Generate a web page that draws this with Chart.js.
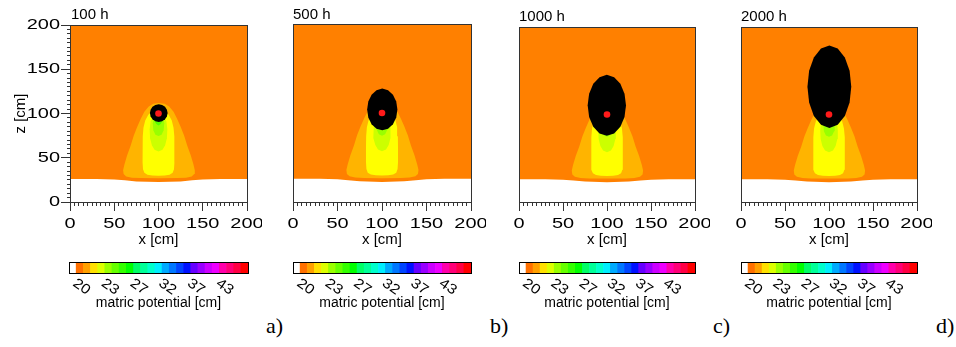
<!DOCTYPE html>
<html><head><meta charset="utf-8">
<script src="https://cdn.jsdelivr.net/npm/chart.js@4.4.1/dist/chart.umd.min.js"></script>
<style>
html,body{margin:0;padding:0;background:#fff;}
#fig{position:relative;width:956px;height:347px;overflow:hidden;background:#fff;}
canvas{position:absolute;}
.ttl{position:absolute;font:15px 'Liberation Sans',Arial,sans-serif;line-height:15px;color:#000;white-space:nowrap;}
.lab{position:absolute;font:22px 'Liberation Serif','DejaVu Serif',serif;line-height:22px;color:#000;white-space:nowrap;}
</style></head><body><div id="fig"></div>
<script>
// ---------- data (x [cm], z [cm]) ----------
const PANEL_TITLES = ['100 h', '500 h', '1000 h', '2000 h'];
const PANEL_LETTERS = ['a)', 'b)', 'c)', 'd)'];
const AXIS_TICKS = [0, 50, 100, 150, 200];
const AXIS_TICK_LABELS = ['0', '50', '100', '150', '200'];
const CB_LABELS = ['20', '23', '27', '32', '37', '43'];
const CB_LABEL_CELLS = [1, 5, 9, 13, 17, 21];
const CB_COLORS = ['#ffffff','#ff7000','#ffa000','#ffe000','#ddff00',
  '#99ff00','#66ff00','#33ff00','#00ff00',
  '#00ff66','#00ff99','#00ffcc','#00eeff',
  '#00aaff','#0077ff','#0044ff','#0011ff',
  '#6600ff','#9900ff','#cc00ff','#ee00ff',
  '#ff00aa','#ff0077','#ff0044','#ff0000'];
const CB_CELL_VALUES = [1,1,1,1,1,1,1,1,1,1,1,1,1,1,1,1,1,1,1,1,1,1,1,1,1];

const WET_FRONT = [[0,26],[30,26],[50,25.5],[62,24.5],[75,23.3],[100,22.5],[125,23.3],[138,24.5],[150,25.5],[170,26],[200,26]];
const PLUME_OUTER = [[100,112],[94,111],[89,108],[84,102],[80,94],[76,85],[72,75],[68.5,63.5],[64.5,52.5],[61.5,42.5],[60,36],[60.6,31.5],[63.5,28.8],[70,27.5],[80,27],[100,26.8],
  [121,27],[131,27.5],[137.5,28.8],[140.4,31.5],[141,36],[139.5,42.5],[136.5,52.5],[132.5,63.5],[129,75],[125,85],[121,94],[117,102],[112,108],[107,111],[100,112]];
const PLUME_YELLOW = [[100,104],[93,102.5],[88.5,98.5],[85,92],[83,84],[82.2,74],[82,60],[82,45],[82.5,37],[84,33],[87.5,30.8],[93,30],[100,29.8],
  [107,30],[112.5,30.8],[116,33],[117.5,37],[118,45],[118,60],[117.8,74],[117,84],[115,92],[111.5,98.5],[107,102.5],[100,104]];
const PLUME_LIME = [[100,99],[94,97],[91,91],[90,82],[90.5,72],[92.5,64],[95.5,59],[100,57],[104.5,59],[107.5,64],[109.5,72],[110,82],[109,91],[106,97],[100,99]];
const PLUME_GREEN = [[100,98],[95,95.5],[93.5,89],[94.2,81],[96.5,76],[100,74.5],[103.5,76],[105.8,81],[106.5,89],[105,95.5],[100,98]];
const PLUME_BRIGHT = [[100,99],[94.5,97.5],[95,92.5],[97.5,88],[100,86.5],[102.5,88],[105,92.5],[105.5,97.5],[100,99]];
const SAT_100H = [[110.3,100.5],[109.5,104.3],[107.4,107.6],[104.1,109.7],[100.3,110.5],[96.5,109.7],[93.2,107.6],[91.1,104.3],[90.3,100.5],[91.1,96.7],[93.2,93.4],[96.5,91.3],[100.3,90.5],[104.1,91.3],[107.4,93.4],[109.5,96.7],[110.3,100.5]];
const SAT_500H = [[117.3,104],[116,113],[112.3,120.6],[106.8,125.7],[100.3,127.5],[93.8,125.7],[88.3,120.6],[84.6,113],[83.3,104],[84.6,95],[88.3,87.4],[93.8,82.3],[100.3,80.5],[106.8,82.3],[112.3,87.4],[116,95],[117.3,104]];
const SAT_1000H = [[121.6,110.5],[119.9,123.8],[115.2,135.1],[108.1,142.7],[99.8,145.3],[91.5,142.7],[84.4,135.1],[79.7,123.8],[78,110.5],[79.7,97.2],[84.4,85.9],[91.5,78.3],[99.8,75.7],[108.1,78.3],[115.2,85.9],[119.9,97.2],[121.6,110.5]];
const SAT_2000H = [[125.3,131.8],[123.4,149.9],[118,165.2],[109.9,175.4],[100.4,179],[90.9,175.4],[82.8,165.2],[77.4,149.9],[75.5,131.8],[77.4,113.7],[82.8,98.4],[90.9,88.2],[100.4,84.6],[109.9,88.2],[118,98.4],[123.4,113.7],[125.3,131.8]];
const SATURATED = [SAT_100H, SAT_500H, SAT_1000H, SAT_2000H];
const SOURCE = [[100,100]];

// ---------- styles / layout ----------
const C_BG = '#ff8000', C_OUTER = '#ffb400', C_YELLOW = '#ffff00', C_LIME = '#ccff00',
      C_GREEN = '#99ff00', C_BRIGHT = '#55ff00', C_SAT = '#000000', C_SRC = '#ff1a1a';
const AXIS_COLOR = '#333';
const MINOR_STEP = 5;
const TICK_FONT = "15px 'Liberation Sans', Arial, sans-serif";
const TICK_STRETCH = 1.33;
const PANEL_BOX = [
  {left:0,   width:262, padL:0,  top:25, showY:true},
  {left:280, width:206, padL:13, top:24, showY:false},
  {left:505, width:205, padL:14, top:27, showY:false},
  {left:727, width:205, padL:14, top:27, showY:false}];
const CB_BOX = [
  {left:59,  width:200, padL:10, padR:11},
  {left:283, width:198, padL:10, padR:10},
  {left:509, width:196, padL:10, padR:10},
  {left:731, width:196, padL:10, padR:10}];
const TITLE_POS = [[71,5.5],[293,5.5],[519,8],[741,8]];
const LETTER_POS = [[266,315],[490,315],[713,315],[936,315]];

Chart.defaults.font.family = "'Liberation Sans', Arial, sans-serif";
Chart.defaults.color = '#000';

const fig = document.getElementById('fig');
const toXY = arr => arr.map(p => ({x: p[0], y: p[1]}));
const al = v => Math.round(v - 0.5) + 0.5;

function stretchedText(ctx, text, x, y, align) {
  ctx.save();
  ctx.translate(x, y);
  ctx.scale(TICK_STRETCH, 1);
  ctx.textAlign = align;
  ctx.fillText(text, 0, 0);
  ctx.restore();
}

const framePlugin = {
  id: 'frameMinor',
  afterDraw(chart, args, opts) {
    const {ctx, chartArea: a, scales} = chart;
    ctx.save();
    ctx.strokeStyle = AXIS_COLOR; ctx.lineWidth = 1;
    const L = al(a.left), R = al(a.right), T = al(a.top), B = al(a.bottom);
    ctx.strokeRect(L, T, R - L, B - T);
    ctx.beginPath();
    const xs = scales.x;
    for (let v = xs.min + MINOR_STEP; v < xs.max; v += MINOR_STEP) {
      if (v % 50 === 0) continue;
      const p = al(xs.getPixelForValue(v));
      ctx.moveTo(p, B); ctx.lineTo(p, B + 3.5);
    }
    if (opts.showY) {
      const ys = scales.y;
      for (let v = ys.min + MINOR_STEP; v < ys.max; v += MINOR_STEP) {
        if (v % 50 === 0) continue;
        const p = al(ys.getPixelForValue(v));
        ctx.moveTo(L, p); ctx.lineTo(L - 3.5, p);
      }
    }
    ctx.stroke();
    // tick labels (horizontally wide digits, as in the original)
    ctx.fillStyle = '#000';
    ctx.font = TICK_FONT;
    ctx.textBaseline = 'middle';
    AXIS_TICKS.forEach((v, k) => {
      stretchedText(ctx, AXIS_TICK_LABELS[k], xs.getPixelForValue(v), a.bottom + 21.5, 'center');
    });
    if (opts.showY) {
      const ys = scales.y;
      AXIS_TICKS.forEach((v, k) => {
        stretchedText(ctx, AXIS_TICK_LABELS[k], a.left - 10, ys.getPixelForValue(v), 'right');
      });
    }
    ctx.restore();
  }
};

function shapeSet(arr, color) {
  return {data: toXY(arr), fill: 'shape', backgroundColor: color, borderColor: 'rgba(0,0,0,0)',
          borderWidth: 0, pointRadius: 0, tension: 0};
}

function makePanel(i) {
  const box = PANEL_BOX[i];
  const cv = document.createElement('canvas');
  cv.width = box.width; cv.height = 250;
  cv.style.left = box.left + 'px'; cv.style.top = '0px';
  cv.style.width = box.width + 'px'; cv.style.height = '250px';
  fig.appendChild(cv);
  const ds = [
    {data: toXY(SOURCE), showLine: false, pointRadius: 3.3, pointBackgroundColor: C_SRC, pointBorderWidth: 0, fill: false},
    shapeSet(SATURATED[i], C_SAT),
    shapeSet(PLUME_BRIGHT, C_BRIGHT),
    shapeSet(PLUME_GREEN, C_GREEN),
    shapeSet(PLUME_LIME, C_LIME),
    shapeSet(PLUME_YELLOW, C_YELLOW),
    shapeSet(PLUME_OUTER, C_OUTER),
    {data: toXY(WET_FRONT), fill: 'end', backgroundColor: C_BG, borderColor: 'rgba(0,0,0,0)', borderWidth: 0, pointRadius: 0, tension: 0}
  ];
  const axisBase = {
    type: 'linear', min: 0, max: 200,
    afterBuildTicks: s => { s.ticks = AXIS_TICKS.map(v => ({value: v})); },
    grid: {drawOnChartArea: false, tickLength: 9, color: AXIS_COLOR, tickColor: AXIS_COLOR},
    border: {display: true, color: AXIS_COLOR}
  };
  new Chart(cv, {
    type: 'line',
    data: {datasets: ds},
    options: {
      responsive: false, animation: false, events: [], devicePixelRatio: 1,
      layout: {padding: {top: box.top, left: box.padL, right: 15, bottom: 0}},
      plugins: {legend: {display: false}, tooltip: {enabled: false}, title: {display: false},
                frameMinor: {showY: box.showY}},
      scales: {
        x: Object.assign({}, axisBase, {
          afterFit: s => { s.height = 48; },
          ticks: {display: false},
          title: {display: true, text: 'x [cm]', font: {size: 15}, color: '#000', padding: {top: 0, bottom: 1}}
        }),
        y: Object.assign({}, axisBase, {
          display: box.showY,
          afterFit: s => { s.width = box.showY ? 70 : 0; },
          ticks: {display: false},
          title: {display: true, text: 'z [cm]', font: {size: 15}, color: '#000', padding: {top: 12, bottom: 0}}
        })
      }
    },
    plugins: [framePlugin]
  });
}

const cbPlugin = {
  id: 'cbLabels',
  afterDraw(chart) {
    const {ctx, chartArea: a, scales: {x}} = chart;
    ctx.save();
    ctx.strokeStyle = '#000'; ctx.lineWidth = 1;
    const L = al(a.left), R = al(a.right), T = al(a.top), B = al(a.bottom);
    ctx.strokeRect(L, T, R - L, B - T);
    ctx.fillStyle = '#000';
    ctx.font = "14px 'Liberation Sans', Arial, sans-serif";
    ctx.textAlign = 'left'; ctx.textBaseline = 'top';
    CB_LABELS.forEach((t, k) => {
      const px = x.getPixelForValue(CB_LABEL_CELLS[k] - 0.5);
      ctx.save();
      ctx.translate(px + 2, a.bottom + 3);
      ctx.rotate(35 * Math.PI / 180);
      ctx.scale(1.15, 1);
      ctx.fillText(t, 0, 0);
      ctx.restore();
    });
    ctx.restore();
  }
};

function makeColorbar(i) {
  const box = CB_BOX[i];
  const cv = document.createElement('canvas');
  cv.width = box.width; cv.height = 58;
  cv.style.left = box.left + 'px'; cv.style.top = '258px';
  cv.style.width = box.width + 'px'; cv.style.height = '58px';
  fig.appendChild(cv);
  new Chart(cv, {
    type: 'bar',
    data: {labels: CB_COLORS.map((c, k) => String(k)),
           datasets: [{data: CB_CELL_VALUES, backgroundColor: CB_COLORS, borderWidth: 0,
                       barPercentage: 1, categoryPercentage: 1}]},
    options: {
      responsive: false, animation: false, events: [], devicePixelRatio: 1,
      layout: {padding: {top: 4, left: box.padL, right: box.padR, bottom: 0}},
      plugins: {legend: {display: false}, tooltip: {enabled: false}},
      scales: {
        x: {type: 'category', offset: true, z: 1,
            afterFit: s => { s.height = 43; },
            ticks: {display: false},
            grid: {offset: true, drawTicks: false, drawOnChartArea: true, lineWidth: 1,
                   color: c => CB_LABEL_CELLS.includes(c.index) ? '#000' : 'rgba(0,0,0,0)'},
            border: {display: true, color: '#000'},
            title: {display: true, text: 'matric potential [cm]', font: {size: 14}, color: '#000', padding: {top: 0, bottom: 4.6}}},
        y: {display: false, min: 0, max: 1}
      }
    },
    plugins: [cbPlugin]
  });
}

for (let i = 0; i < 4; i++) {
  makePanel(i);
  makeColorbar(i);
  const t = document.createElement('div');
  t.className = 'ttl'; t.textContent = PANEL_TITLES[i];
  t.style.left = TITLE_POS[i][0] + 'px'; t.style.top = TITLE_POS[i][1] + 'px';
  fig.appendChild(t);
  const l = document.createElement('div');
  l.className = 'lab'; l.textContent = PANEL_LETTERS[i];
  l.style.left = LETTER_POS[i][0] + 'px'; l.style.top = LETTER_POS[i][1] + 'px';
  fig.appendChild(l);
}
</script></body></html>
